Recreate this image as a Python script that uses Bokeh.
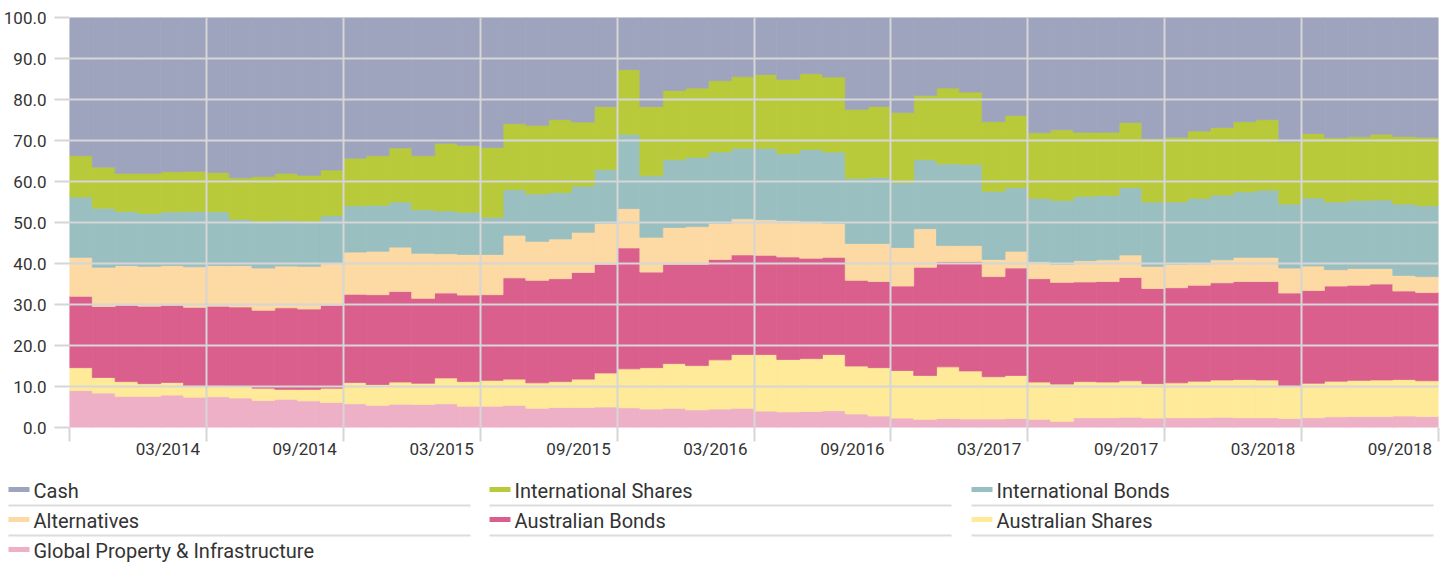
from bokeh.plotting import figure
from bokeh.models import Range1d, FixedTicker, NumeralTickFormatter, ColumnDataSource
from bokeh.layouts import column
from bokeh.embed import file_html
from bokeh.resources import INLINE
from bokeh.core.properties import value

# ---------------- data (monthly, Oct 2013 .. Sep 2018) ----------------
tick_labels = ["03/2014", "09/2014", "03/2015", "09/2015", "03/2016",
               "09/2016", "03/2017", "09/2017", "03/2018", "09/2018"]

global_property = [9.0, 8.4, 7.6, 7.6, 7.9, 7.4, 7.5, 7.2, 6.6, 6.9, 6.5, 6.1, 5.8, 5.4, 5.7, 5.6,
                   5.8, 5.2, 5.2, 5.4, 4.7, 4.9, 4.9, 5.0, 4.8, 4.5, 4.7, 4.3, 4.5, 4.7, 4.0,
                   3.8, 3.9, 4.1, 3.3, 2.8, 2.3, 2.0, 2.2, 2.1, 2.1, 2.2, 2.0, 1.5, 2.4, 2.4,
                   2.5, 2.3, 2.4, 2.4, 2.5, 2.4, 2.4, 2.2, 2.4, 2.6, 2.7, 2.7, 2.8, 2.7]
australian_shares = [5.6, 3.8, 3.6, 3.1, 3.1, 2.8, 2.7, 2.9, 3.0, 2.4, 2.8, 3.5, 5.2, 5.1, 5.4, 5.2,
                     6.3, 6.0, 6.3, 6.4, 6.2, 6.3, 6.9, 8.3, 9.5, 10.1, 10.9, 10.8, 12.0, 13.1, 13.8,
                     12.8, 12.9, 13.7, 11.7, 11.8, 11.6, 10.7, 12.6, 11.7, 10.3, 10.5, 9.1, 9.1, 8.8, 8.7,
                     8.9, 8.4, 8.5, 8.9, 9.1, 9.3, 9.2, 8.0, 8.4, 8.7, 8.8, 8.9, 8.9, 8.7]
australian_bonds = [17.4, 17.3, 18.6, 18.9, 18.8, 19.1, 19.4, 19.3, 19.0, 19.9, 19.6, 20.2, 21.5, 21.9, 22.1, 20.7,
                    20.7, 21.1, 20.9, 24.7, 25.0, 25.1, 26.0, 26.5, 29.5, 23.3, 24.2, 24.7, 24.5, 24.3, 24.2,
                    25.0, 24.5, 23.7, 20.9, 21.0, 20.6, 26.4, 25.6, 26.6, 24.4, 26.2, 25.2, 24.8, 24.3, 24.5,
                    25.2, 23.2, 23.2, 23.4, 23.7, 23.9, 24.0, 22.6, 22.6, 23.2, 23.2, 23.4, 21.6, 21.5]
alternatives = [9.5, 9.6, 9.7, 9.7, 9.7, 9.9, 9.9, 10.1, 10.3, 10.2, 10.4, 10.2, 10.3, 10.6, 10.8, 11.0,
                9.6, 9.9, 9.8, 10.4, 9.5, 9.7, 9.8, 10.0, 9.6, 8.5, 9.0, 9.2, 8.8, 8.8, 8.7,
                8.9, 9.0, 8.3, 9.0, 9.3, 9.4, 9.4, 4.0, 4.0, 4.2, 4.1, 4.1, 4.4, 5.2, 5.3,
                5.5, 5.4, 5.7, 5.2, 5.6, 5.9, 5.9, 6.1, 6.0, 4.0, 4.1, 3.8, 3.8, 3.9]
international_bonds = [14.7, 14.4, 13.2, 12.9, 13.1, 13.5, 13.1, 11.3, 11.4, 11.1, 11.0, 11.7, 11.3, 11.2, 11.0, 10.6,
                       10.4, 10.3, 9.1, 11.1, 11.6, 11.3, 11.3, 13.1, 18.1, 15.0, 16.5, 16.9, 17.4, 17.2, 17.4,
                       16.3, 17.5, 17.4, 15.9, 16.1, 15.8, 16.8, 19.9, 19.8, 16.6, 15.5, 15.5, 15.6, 15.7, 15.7,
                       16.4, 15.7, 15.2, 16.0, 15.8, 16.0, 16.4, 15.6, 16.6, 16.5, 16.6, 16.7, 17.4, 17.3]
international_shares = [10.1, 10.0, 9.3, 9.8, 9.8, 9.8, 9.6, 10.1, 10.9, 11.5, 11.2, 11.1, 11.6, 12.1, 13.2, 13.2,
                        16.5, 16.3, 17.0, 16.1, 16.7, 17.8, 15.6, 15.4, 15.8, 16.9, 16.9, 16.9, 17.4, 17.5, 18.0,
                        18.1, 18.5, 18.3, 16.8, 17.3, 17.1, 15.7, 18.5, 17.6, 17.0, 17.6, 16.0, 17.2, 15.6, 15.4,
                        15.9, 15.4, 15.8, 16.4, 16.5, 17.1, 17.2, 15.2, 15.7, 15.7, 15.5, 16.0, 16.5, 16.7]
cash = [33.7, 36.5, 38.0, 38.0, 37.6, 37.5, 37.8, 39.1, 38.8, 38.0, 38.5, 37.2, 34.3, 33.7, 31.8, 33.7,
        30.7, 31.2, 31.7, 25.9, 26.3, 24.9, 25.5, 21.7, 12.7, 21.7, 17.8, 17.2, 15.4, 14.4, 13.9,
        15.1, 13.7, 14.5, 22.4, 21.7, 23.2, 19.0, 17.2, 18.2, 25.4, 23.9, 28.1, 27.4, 28.0, 28.0,
        25.6, 29.6, 29.2, 27.7, 26.8, 25.4, 24.9, 30.3, 28.3, 29.3, 29.1, 28.5, 29.0, 29.2]

series_names = ["Global Property & Infrastructure", "Australian Shares", "Australian Bonds",
                "Alternatives", "International Bonds", "International Shares", "Cash"]
series_values = [global_property, australian_shares, australian_bonds, alternatives,
                 international_bonds, international_shares, cash]
series_colors = ["#EEB0C6", "#FEEA99", "#DA5F8D", "#FDD9A4", "#9ABFC0", "#B8CA3A", "#9EA4BD"]

# ---------------- style ----------------
FONT = "Roboto"
GRID = "#d6d6d6"
TXT = "#333333"
N = len(cash)
LABEL_SHIFT = 1.69  # tick labels sit to the left of their gridline
W = 1442

data = {"x": [i + 0.5 for i in range(N)]}
for name, vals in zip(series_names, series_values):
    data[name] = vals
src = ColumnDataSource(data)

p = figure(width=W, height=467, x_range=Range1d(0, N), y_range=Range1d(0, 100),
           output_backend="svg", toolbar_location=None,
           min_border_left=68, min_border_right=4, min_border_top=17, min_border_bottom=40)
p.vbar_stack(series_names, x="x", width=1.0, source=src, fill_color=series_colors,
             line_color=series_colors, line_width=0.8)

p.outline_line_color = None
grid_ticks = list(range(0, N + 1, 6))
for g in (p.xgrid, p.ygrid):
    g.grid_line_color = GRID
    g.grid_line_width = 2
    g.level = "annotation"
p.xgrid.ticker = FixedTicker(ticks=grid_ticks)
p.ygrid.ticker = FixedTicker(ticks=list(range(0, 101, 10)))

ya = p.yaxis[0]
ya.ticker = FixedTicker(ticks=list(range(0, 101, 10)))
ya.formatter = NumeralTickFormatter(format="0.0")
ya.axis_line_color = None
ya.major_tick_out = 15
ya.major_tick_in = 0
ya.major_tick_line_color = GRID
ya.major_tick_line_width = 2
ya.minor_tick_line_color = None
ya.major_label_standoff = 8
ya.major_label_text_font = FONT
ya.major_label_text_font_size = "17px"
ya.major_label_text_color = TXT

# x axis on a shifted range: labels at label centres, small tick marks (minor) at gridlines
p.extra_x_ranges = {"lab": Range1d(LABEL_SHIFT, N + LABEL_SHIFT)}
lab_ticks = list(range(6, N + 1, 6))
xa = p.xaxis[0]
xa.x_range_name = "lab"
xa.ticker = FixedTicker(ticks=lab_ticks, minor_ticks=[t + LABEL_SHIFT for t in grid_ticks])
xa.major_label_overrides = {t: l for t, l in zip(lab_ticks, tick_labels)}
xa.axis_line_color = None
xa.major_tick_out = 0
xa.major_tick_in = 0
xa.minor_tick_out = 14
xa.minor_tick_in = 0
xa.minor_tick_line_color = GRID
xa.minor_tick_line_width = 2
xa.major_label_standoff = -3
xa.major_label_text_font = FONT
xa.major_label_text_font_size = "17px"
xa.major_label_text_color = TXT

# ---------------- legend (3 columns, row-major, top series first) ----------------
leg_names = series_names[::-1]
leg_colors = series_colors[::-1]
col_x = [8, 489, 971]
row_y = [22, 52, 82]
lx, ly, tx, ty, ux0, ux1, uy = [], [], [], [], [], [], []
for k, nm in enumerate(leg_names):
    c, r = k % 3, k // 3
    lx.append(col_x[c] + 10.5)
    ly.append(row_y[r])
    tx.append(col_x[c] + 25)
    ty.append(row_y[r] + 1.5)
    ux0.append(col_x[c])
    ux1.append(col_x[c] + 462)
    uy.append(row_y[r] + 16)

leg = figure(width=W, height=95, x_range=Range1d(0, W), y_range=Range1d(95, 0),
             output_backend="svg", toolbar_location=None, x_axis_type=None, y_axis_type=None,
             min_border=0, min_border_left=0, min_border_right=0,
             min_border_top=0, min_border_bottom=0)
leg.outline_line_color = None
leg.segment(x0=ux0, y0=uy, x1=ux1, y1=uy, line_color="#dcdcdc", line_width=2)
leg.rect(x=lx, y=ly, width=21, height=5, fill_color=leg_colors, line_color=None)
leg.text(x=tx, y=ty, text=leg_names, text_baseline="middle", text_align="left",
         text_font=value(FONT), text_font_size="20px", text_color=TXT)

# do not align the legend strip's frame with the chart frame
for fig in (p, leg):
    if "frame_align" in fig.properties():
        fig.frame_align = False

layout = column(p, leg, spacing=0)
open("out.html", "w").write(file_html(layout, INLINE))
